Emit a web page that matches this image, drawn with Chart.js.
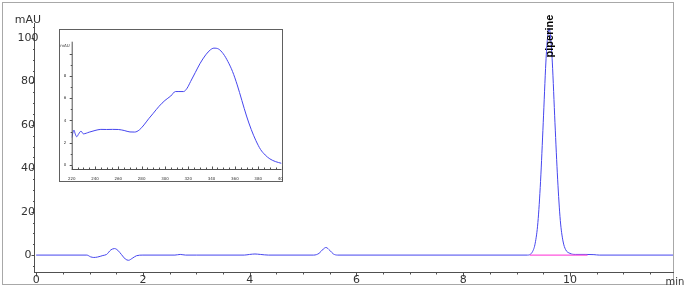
<!DOCTYPE html>
<html>
<head>
<meta charset="utf-8">
<script src="https://cdn.jsdelivr.net/npm/chart.js@4"></script>
<style>
  html, body { margin: 0; padding: 0; background: #ffffff; }
  #wrap { position: relative; width: 685px; height: 287px; }
  #main { position: absolute; left: 0; top: 0; }
  #inset { position: absolute; left: 59px; top: 29px; }
</style>
</head>
<body>
<div id="wrap">
  <canvas id="main" width="685" height="287"></canvas>
  <canvas id="inset" width="224" height="153"></canvas>
</div>
<script>
// ---- Chromatogram (min, mAU) ----
const timeMin = [0, 0.95, 1.02, 1.08, 1.15, 1.25, 1.32, 1.4, 1.47, 1.53, 1.6, 1.67, 1.73, 1.8, 1.88, 2.0,
  2.6, 2.7, 2.8, 3.0, 3.9, 4.0, 4.1, 4.2, 4.35, 5.2, 5.3, 5.38, 5.43, 5.5, 5.57, 5.65,
  9.2, 9.3, 9.35, 9.4, 9.45, 9.5, 9.55, 9.58, 9.61, 9.64, 9.67, 9.72, 9.77, 9.82, 9.87, 9.92,
  10.0, 10.1, 10.3, 10.45, 10.55, 11.95];
const signalMau = [0, 0, -0.8, -1.1, -0.9, -0.2, 0.3, 2.4, 3.0, 2.2, 0.2, -1.8, -2.4, -1.5, -0.3, 0,
  0, 0.3, 0, 0, 0, 0.3, 0.5, 0.3, 0, 0, 0.8, 2.8, 3.5, 2.2, 0.5, 0,
  0, 1.6, 5.5, 15, 34, 61, 89, 100, 104.5, 100, 89, 61, 35, 16, 6.5, 2.5,
  0.8, 0.3, 0.3, 0.2, 0, 0];
const baselineTime = [9.25, 10.33];
const baselineMau = [0, 0];
const peakName = "piperine";
const peakTime = 9.625;
const peakHeight = 104.5;
const xTickLabels = [0, 2, 4, 6, 8, 10];
const yTickLabels = [0, 20, 40, 60, 80, 100];

// ---- Inset UV spectrum (nm, mAU) ----
const specNm = [220, 221, 222, 223, 224.3, 226, 228, 230, 235, 240, 245, 250, 255, 260, 265, 270, 274, 278,
  282, 286, 290, 295, 300, 305, 309, 312, 316, 319, 322, 326, 330, 335, 339, 342, 346, 350, 354, 358,
  362, 366, 370, 374, 378, 382, 386, 390, 395, 400];
const specMau = [2.45, 2.9, 3.13, 2.8, 2.54, 2.8, 3.04, 2.8, 2.95, 3.1, 3.2, 3.19, 3.2, 3.19, 3.1, 2.97, 2.96, 3.15,
  3.6, 4.15, 4.65, 5.28, 5.8, 6.2, 6.6, 6.6, 6.6, 6.9, 7.5, 8.3, 9.1, 9.9, 10.35, 10.5, 10.42, 10.0, 9.3, 8.4,
  7.2, 5.8, 4.4, 3.2, 2.2, 1.4, 0.9, 0.55, 0.3, 0.15];
const insetXTicks = [220, 240, 260, 280, 300, 320, 340, 360, 380, 400];
const insetYTicks = [0, 2, 4, 6, 8];

const BLUE = '#4646ee';
const PINK = '#ff55dd';
const AXIS = '#505050';
const TEXT = '#333333';

const mainAxes = {
  id: 'mainAxes',
  afterDraw(chart) {
    const { ctx, chartArea: a, scales: { x, y } } = chart;
    ctx.save();
    // outer frame
    ctx.strokeStyle = '#a8a8a8';
    ctx.lineWidth = 1;
    ctx.strokeRect(2.5, 2.5, 671, 282);
    // axis lines
    ctx.strokeStyle = AXIS;
    ctx.beginPath();
    ctx.moveTo(a.left + 0.5, a.top); ctx.lineTo(a.left + 0.5, a.bottom + 0.5);
    ctx.moveTo(a.left, a.bottom + 0.5); ctx.lineTo(a.right, a.bottom + 0.5);
    ctx.stroke();
    // y ticks
    ctx.beginPath();
    for (let v = -5; v <= 105; v += 5) {
      const py = Math.round(y.getPixelForValue(v)) + 0.5;
      const len = (v % 20 === 0) ? 3 : 1.5;
      ctx.moveTo(a.left + 0.5 - len, py); ctx.lineTo(a.left + 0.5, py);
    }
    // x ticks
    for (let v = 0; v <= 11.5; v += 0.5) {
      const px = Math.round(x.getPixelForValue(v)) + 0.5;
      const len = (v % 2 === 0) ? 4 : 2;
      ctx.moveTo(px, a.bottom + 0.5); ctx.lineTo(px, a.bottom + 0.5 + len);
    }
    ctx.stroke();
    // labels
    ctx.fillStyle = TEXT;
    ctx.font = '11px "DejaVu Sans"';
    ctx.textAlign = 'center';
    ctx.textBaseline = 'middle';
    yTickLabels.forEach(v => ctx.fillText(String(v), 28, y.getPixelForValue(v)));
    xTickLabels.forEach(v => ctx.fillText(String(v), x.getPixelForValue(v), 280.5));
    ctx.fillText('mAU', 28, 20);
    ctx.font = '10px "DejaVu Sans"';
    ctx.fillText('min', 675, 282);
    // peak label
    ctx.save();
    ctx.translate(x.getPixelForValue(peakTime), y.getPixelForValue(peakHeight) + 29);
    ctx.rotate(-Math.PI / 2);
    ctx.fillStyle = '#000000';
    ctx.font = 'bold 11px "Liberation Sans"';
    ctx.textAlign = 'left';
    ctx.textBaseline = 'middle';
    ctx.fillText(peakName, 0, 0);
    ctx.restore();
    ctx.restore();
  }
};

new Chart(document.getElementById('main'), {
  type: 'line',
  data: {
    datasets: [
      {
        data: baselineTime.map((t, i) => ({ x: t, y: baselineMau[i] })),
        borderColor: PINK, borderWidth: 1.2, pointRadius: 0, order: 0
      },
      {
        data: timeMin.map((t, i) => ({ x: t, y: signalMau[i] })),
        borderColor: BLUE, borderWidth: 1, pointRadius: 0,
        cubicInterpolationMode: 'monotone', order: 1
      }
    ]
  },
  options: {
    responsive: false,
    animation: false,
    devicePixelRatio: 1,
    layout: { padding: { left: 34, right: 11, top: 23, bottom: 15 } },
    plugins: { legend: { display: false }, tooltip: { enabled: false } },
    scales: {
      x: { type: 'linear', display: false, min: -0.04, max: 11.95 },
      y: { type: 'linear', display: false, min: -7.8, max: 107 }
    }
  },
  plugins: [mainAxes]
});

const insetAxes = {
  id: 'insetAxes',
  beforeDraw(chart) {
    const { ctx } = chart;
    ctx.save();
    ctx.fillStyle = '#ffffff';
    ctx.fillRect(0, 0, chart.width, chart.height);
    ctx.restore();
  },
  afterDraw(chart) {
    const { ctx, chartArea: a, scales: { x, y } } = chart;
    ctx.save();
    ctx.strokeStyle = '#606060';
    ctx.lineWidth = 1;
    ctx.strokeRect(0.5, 0.5, chart.width - 1, chart.height - 1);
    ctx.strokeStyle = AXIS;
    ctx.beginPath();
    ctx.moveTo(a.left + 0.5, a.top); ctx.lineTo(a.left + 0.5, a.bottom + 0.5);
    ctx.moveTo(a.left, a.bottom + 0.5); ctx.lineTo(a.right, a.bottom + 0.5);
    for (let v = 220; v <= 400; v += 5) {
      const px = Math.round(x.getPixelForValue(v)) + 0.5;
      const len = (v % 20 === 0) ? 3 : 2;
      ctx.moveTo(px, a.bottom + 0.5); ctx.lineTo(px, a.bottom + 0.5 - len);
    }
    for (let v = 0; v <= 10; v += 1) {
      const py = Math.round(y.getPixelForValue(v)) + 0.5;
      const len = (v % 2 === 0) ? 2.5 : 1.5;
      ctx.moveTo(a.left + 0.5 - len, py); ctx.lineTo(a.left + 0.5, py);
    }
    ctx.stroke();
    ctx.fillStyle = TEXT;
    ctx.font = '4px "DejaVu Sans"';
    ctx.textAlign = 'center';
    ctx.textBaseline = 'middle';
    insetXTicks.forEach(v => ctx.fillText(String(v), x.getPixelForValue(v), a.bottom + 9.5));
    insetYTicks.forEach(v => ctx.fillText(String(v), 6, y.getPixelForValue(v)));
    ctx.fillText('mAU', 6, 17);
    ctx.restore();
  }
};

new Chart(document.getElementById('inset'), {
  type: 'line',
  data: {
    datasets: [{
      data: specNm.map((n, i) => ({ x: n, y: specMau[i] })),
      borderColor: BLUE, borderWidth: 1, pointRadius: 0,
      cubicInterpolationMode: 'monotone'
    }]
  },
  options: {
    responsive: false,
    animation: false,
    devicePixelRatio: 1,
    layout: { padding: { left: 12.7, right: 1.5, top: 12.7, bottom: 13 } },
    plugins: { legend: { display: false }, tooltip: { enabled: false } },
    scales: {
      x: { type: 'linear', display: false, min: 220, max: 400 },
      y: { type: 'linear', display: false, min: -0.36, max: 11.08 }
    }
  },
  plugins: [insetAxes]
});
</script>
</body>
</html>
